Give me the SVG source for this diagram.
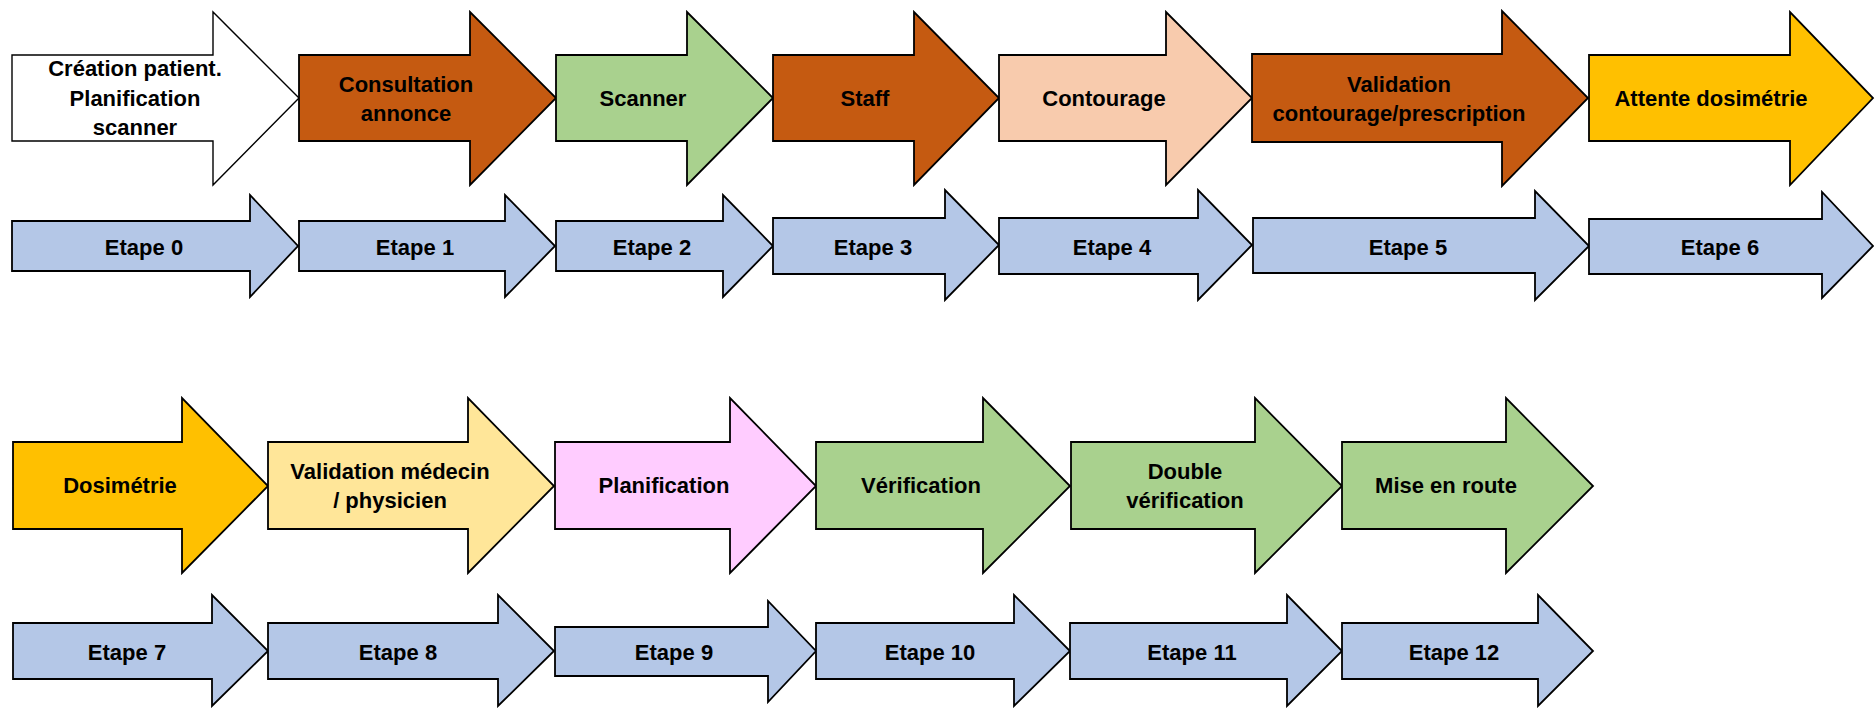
<svg xmlns="http://www.w3.org/2000/svg" width="1876" height="708" viewBox="0 0 1876 708">
<style>
.a{stroke:#000;stroke-width:1.8;stroke-linejoin:miter}
.w{fill:#FFFFFF;stroke-width:1.4}
.br{fill:#C55A11}
.gr{fill:#A9D18E}
.pe{fill:#F8CBAD}
.go{fill:#FFC000}
.ly{fill:#FFE699}
.pk{fill:#FFCCFF}
.bl{fill:#B4C7E7}
text{font-family:"Liberation Sans",Arial,sans-serif;font-weight:bold;font-size:22px;fill:#000;text-anchor:middle}
</style>
<rect width="1876" height="708" fill="#FFFFFF"/>
<g id="connectors"/>

<!-- Row 1 process arrows -->
<g id="n-creation">
<polygon class="a w" points="12,55 213,55 213,12 299,98 213,185 213,141 12,141"/>
<text x="135" y="76">Création patient.</text>
<text x="135" y="106">Planification</text>
<text x="135" y="135">scanner</text>
</g>
<g id="n-consultation">
<polygon class="a br" points="299,55 470,55 470,12 556,98 470,185 470,141 299,141"/>
<text x="406" y="92">Consultation</text>
<text x="406" y="121">annonce</text>
</g>
<g id="n-scanner">
<polygon class="a gr" points="556,55 687,55 687,12 773,98 687,185 687,141 556,141"/>
<text x="643" y="106">Scanner</text>
</g>
<g id="n-staff">
<polygon class="a br" points="773,55 914,55 914,12 999,98 914,185 914,141 773,141"/>
<text x="865" y="106">Staff</text>
</g>
<g id="n-contourage">
<polygon class="a pe" points="999,55 1166,55 1166,12 1252,98 1166,185 1166,141 999,141"/>
<text x="1104" y="106">Contourage</text>
</g>
<g id="n-validation">
<polygon class="a br" points="1252,54 1502,54 1502,11 1588,98 1502,186 1502,142 1252,142"/>
<text x="1399" y="92">Validation</text>
<text x="1399" y="121">contourage/prescription</text>
</g>
<g id="n-attente">
<polygon class="a go" points="1589,55 1790,55 1790,12 1873,98 1790,185 1790,141 1589,141"/>
<text x="1711" y="106">Attente dosimétrie</text>
</g>

<!-- Row 1 step arrows -->
<g id="n-etape0">
<polygon class="a bl" points="12,221 250,221 250,195 298,246 250,297 250,271 12,271"/>
<text x="144" y="255">Etape 0</text>
</g>
<g id="n-etape1">
<polygon class="a bl" points="299,221 505,221 505,195 555,246 505,297 505,271 299,271"/>
<text x="415" y="255">Etape 1</text>
</g>
<g id="n-etape2">
<polygon class="a bl" points="556,221 723,221 723,195 773,246 723,297 723,271 556,271"/>
<text x="652" y="255">Etape 2</text>
</g>
<g id="n-etape3">
<polygon class="a bl" points="773,218 945,218 945,190 999,245 945,300 945,274 773,274"/>
<text x="873" y="255">Etape 3</text>
</g>
<g id="n-etape4">
<polygon class="a bl" points="999,218 1198,218 1198,190 1252,245 1198,300 1198,274 999,274"/>
<text x="1112" y="255">Etape 4</text>
</g>
<g id="n-etape5">
<polygon class="a bl" points="1253,218 1535,218 1535,191 1589,246 1535,300 1535,273 1253,273"/>
<text x="1408" y="255">Etape 5</text>
</g>
<g id="n-etape6">
<polygon class="a bl" points="1589,219 1822,219 1822,192 1873,246 1822,298 1822,274 1589,274"/>
<text x="1720" y="255">Etape 6</text>
</g>

<!-- Row 2 process arrows -->
<g id="n-dosimetrie">
<polygon class="a go" points="13,442 182,442 182,398 268,486 182,573 182,529 13,529"/>
<text x="120" y="493">Dosimétrie</text>
</g>
<g id="n-validation-medecin">
<polygon class="a ly" points="268,442 468,442 468,398 554,486 468,573 468,529 268,529"/>
<text x="390" y="479">Validation médecin</text>
<text x="390" y="508">/ physicien</text>
</g>
<g id="n-planification">
<polygon class="a pk" points="555,442 730,442 730,398 816,486 730,573 730,529 555,529"/>
<text x="664" y="493">Planification</text>
</g>
<g id="n-verification">
<polygon class="a gr" points="816,442 983,442 983,398 1070,486 983,573 983,529 816,529"/>
<text x="921" y="493">Vérification</text>
</g>
<g id="n-double-verification">
<polygon class="a gr" points="1071,442 1255,442 1255,398 1342,486 1255,573 1255,529 1071,529"/>
<text x="1185" y="479">Double</text>
<text x="1185" y="508">vérification</text>
</g>
<g id="n-mise-en-route">
<polygon class="a gr" points="1342,442 1506,442 1506,398 1593,486 1506,573 1506,529 1342,529"/>
<text x="1446" y="493">Mise en route</text>
</g>

<!-- Row 2 step arrows -->
<g id="n-etape7">
<polygon class="a bl" points="13,623 212,623 212,595 268,651 212,706 212,679 13,679"/>
<text x="127" y="660">Etape 7</text>
</g>
<g id="n-etape8">
<polygon class="a bl" points="268,623 498,623 498,595 554,651 498,706 498,679 268,679"/>
<text x="398" y="660">Etape 8</text>
</g>
<g id="n-etape9">
<polygon class="a bl" points="555,627 768,627 768,601 816,651 768,702 768,676 555,676"/>
<text x="674" y="660">Etape 9</text>
</g>
<g id="n-etape10">
<polygon class="a bl" points="816,623 1014,623 1014,595 1070,651 1014,706 1014,679 816,679"/>
<text x="930" y="660">Etape 10</text>
</g>
<g id="n-etape11">
<polygon class="a bl" points="1070,623 1287,623 1287,595 1342,651 1287,706 1287,679 1070,679"/>
<text x="1192" y="660">Etape 11</text>
</g>
<g id="n-etape12">
<polygon class="a bl" points="1342,623 1538,623 1538,595 1593,651 1538,706 1538,679 1342,679"/>
<text x="1454" y="660">Etape 12</text>
</g>
</svg>
